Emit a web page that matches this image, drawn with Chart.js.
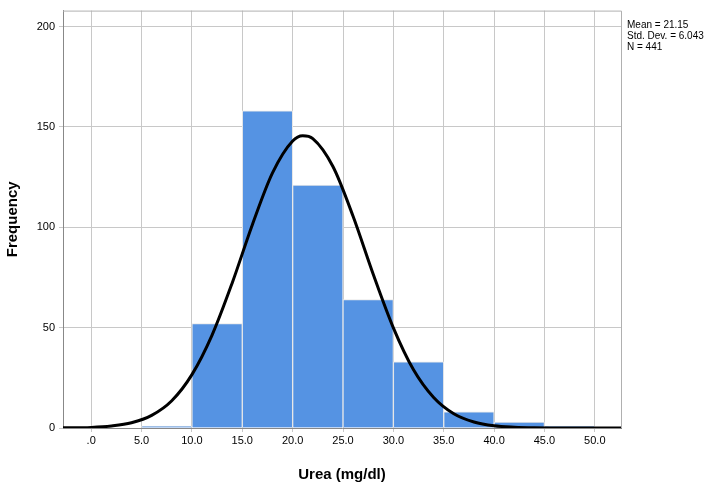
<!DOCTYPE html>
<html><head><meta charset="utf-8">
<script src="https://cdn.jsdelivr.net/npm/chart.js@4"></script>
<style>html,body{margin:0;padding:0;background:#fff}#wrap{width:723px;height:488px}</style>
</head><body><div id="wrap"><canvas id="c"></canvas></div>
<script>
const binCenters = [7.5, 12.5, 17.5, 22.5, 27.5, 32.5, 37.5, 42.5, 47.5];
const binCounts = [1, 52, 158, 121, 64, 33, 8, 3, 1];
const curveX = [-3,0,2,4,6,8,10,12,14,16,18,20,21,22,24,26,28,30,32,34,36,38,40,42,44,46,48,50,53];
const curveY = [0.05,0.3,1.0,2.6,6.3,13.6,26.6,46.3,72.3,101.3,127.1,143.0,145.6,144.2,130.3,105.5,76.6,49.9,29.0,15.2,7.1,3.0,1.1,0.4,0.1,0.03,0.01,0,0];
const xTicks = [0,5,10,15,20,25,30,35,40,45,50];
const yTicks = [0,50,100,150,200];
const statLines = ['Mean = 21.15','Std. Dev. = 6.043','N = 441'];

const statsPlugin = {id:'stats', afterDraw(ch){
  const c = ch.ctx; c.save(); c.fillStyle='#000'; c.font='10px "Liberation Sans", Arial';
  c.textBaseline='top';
  statLines.forEach((t,i)=>c.fillText(t, 627, 20+i*11));
  const a = ch.chartArea;
  c.strokeStyle='#b0b0b0'; c.lineWidth=1;
  c.beginPath(); c.moveTo(a.left, a.top+0.5); c.lineTo(a.right+0.5, a.top+0.5); c.lineTo(a.right+0.5, a.bottom); c.stroke();
  c.restore();
}};

new Chart(document.getElementById('c'), {
  data:{datasets:[
    {type:'line', data:curveX.map((x,i)=>({x, y:curveY[i]})), borderColor:'#000', borderWidth:3,
     pointRadius:0, tension:0.4, cubicInterpolationMode:'monotone', fill:false, order:0},
    {type:'bar', data:binCenters.map((x,i)=>({x, y:binCounts[i]})), backgroundColor:'#5593E3',
     borderColor:'#e8e8e8', borderWidth:1, barPercentage:1, categoryPercentage:1, order:1}
  ]},
  options:{
    responsive:true, maintainAspectRatio:false, animation:false,
    layout:{padding:{top:0,right:102,left:0,bottom:0}},
    plugins:{legend:{display:false}, tooltip:{enabled:false}},
    scales:{
      x:{type:'linear', min:-2.8, max:52.6, offset:false,
        afterBuildTicks(s){s.ticks = xTicks.map(v=>({value:v}));},
        afterFit(s){s.height=60;},
        ticks:{callback:v=>v===0?'.0':v.toFixed(1), color:'#000', font:{size:11,family:'"Liberation Sans", Arial'}, maxRotation:0, padding:2},
        grid:{color:'#c8c8c8', drawTicks:true, tickLength:4, offset:false},
        border:{color:'#888'},
        title:{display:true, text:'Urea (mg/dl)', color:'#000', font:{size:15,weight:'bold',family:'"Liberation Sans", Arial'}, padding:{top:9}}
      },
      y:{min:0, max:208,
        afterBuildTicks(s){s.ticks = yTicks.map(v=>({value:v}));},
        afterFit(s){s.width=63;},
        ticks:{color:'#000', font:{size:11,family:'"Liberation Sans", Arial'}, padding:4},
        grid:{color:'#c8c8c8', tickLength:4},
        border:{color:'#888'},
        title:{display:true, text:'Frequency', color:'#000', font:{size:15,weight:'bold',family:'"Liberation Sans", Arial'}}
      }
    }
  },
  plugins:[statsPlugin]
});
</script></body></html>
